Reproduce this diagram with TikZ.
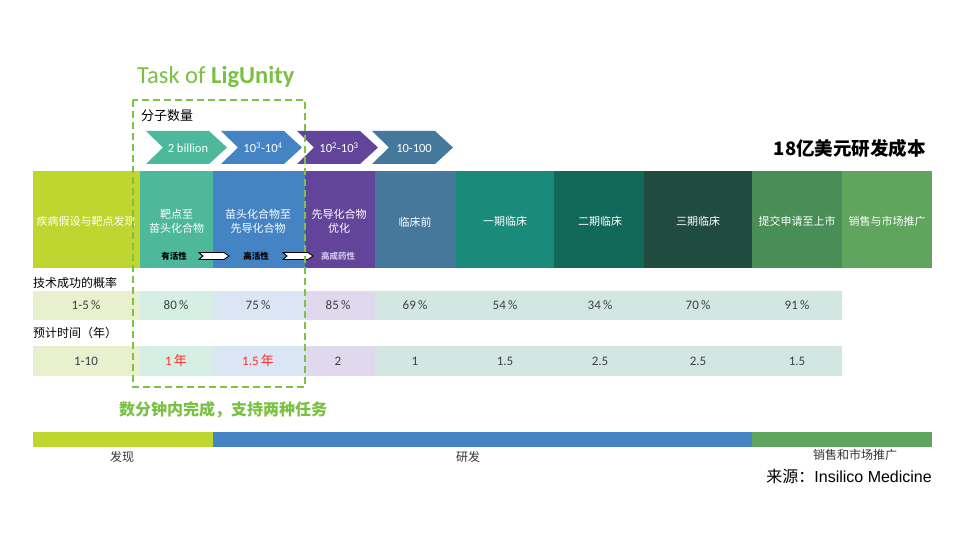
\documentclass[tikz,border=0pt]{standalone}
\usepackage{fontspec}
\setmainfont{Carlito}
\newfontfamily\cjk{Noto Sans CJK SC}
\newfontfamily\arial{Liberation Sans}
\definecolor{clime}{HTML}{BFD630}
\definecolor{cteal}{HTML}{4DB89C}
\definecolor{cblue}{HTML}{4484C4}
\definecolor{cpurple}{HTML}{62459A}
\definecolor{cslate}{HTML}{45789B}
\definecolor{cteal2}{HTML}{1A8B7A}
\definecolor{cdteal}{HTML}{12695A}
\definecolor{cdgreen}{HTML}{1F4C3F}
\definecolor{cgreen1}{HTML}{4A8E57}
\definecolor{cgreen2}{HTML}{5FA55E}
\definecolor{plime}{HTML}{E8F0CD}
\definecolor{pteal}{HTML}{D6EFE5}
\definecolor{pblue}{HTML}{DBE6F4}
\definecolor{ppurple}{HTML}{E0D9EE}
\definecolor{pgray}{HTML}{D3E7E2}
\definecolor{ctitle}{HTML}{7AC143}
\definecolor{cbox}{HTML}{7DC242}
\definecolor{cval}{HTML}{404040}
\definecolor{cred}{HTML}{FF2A2A}
\definecolor{clav}{HTML}{CBC1E4}
\begin{document}
\begin{tikzpicture}[x=1pt,y=-1pt,
  stagetxt/.style={text=white, font=\cjk\fontsize{11}{13.5}\selectfont, align=center, inner sep=0pt},
  chevtxt/.style={text=white, font=\fontsize{12.5}{14}\selectfont, inner sep=0pt},
  smalltxt/.style={font=\cjk\bfseries\fontsize{8.5}{10}\selectfont, inner sep=0pt},
  valtxt/.style={text=cval, font=\fontsize{13}{15}\selectfont, inner sep=0pt},
  redtxt/.style={text=cred, font=\fontsize{13}{15}\selectfont, inner sep=0pt},
  rowlabel/.style={anchor=west, font=\cjk\fontsize{12}{14}\selectfont, inner sep=0pt},
  bottomtxt/.style={text=black!80, font=\cjk\fontsize{12}{14}\selectfont, inner sep=0pt},
  smallarrow/.style={fill=white, draw=black, line width=0.9pt}
]
\useasboundingbox (0,0) rectangle (960,540);
\fill[white] (0,0) rectangle (960,540);

% title
\node[anchor=west, text=ctitle, font=\fontsize{24.5}{28}\selectfont, inner sep=0pt] (title) at (137,77) {Task of \textbf{LigUnity}};
\node[anchor=west, font=\cjk\fontsize{13}{15}\selectfont, inner sep=0pt] (count) at (141,116) {分子数量};
\node[anchor=east, font=\cjk\bfseries\fontsize{18.5}{22}\selectfont, inner sep=0pt] (cost) at (926,148) {18亿美元研发成本};

% chevrons
\fill[cteal]   (146,131) -- (209,131) -- (227,147.5) -- (209,164) -- (146,164) -- (163,147.5) -- cycle;
\fill[cblue]   (221,131) -- (284,131) -- (302,147.5) -- (284,164) -- (221,164) -- (238,147.5) -- cycle;
\fill[cpurple] (297,131) -- (360,131) -- (378,147.5) -- (360,164) -- (297,164) -- (314,147.5) -- cycle;
\fill[cslate]  (372,131) -- (435,131) -- (453,147.5) -- (435,164) -- (372,164) -- (389,147.5) -- cycle;
\node[chevtxt] (c1) at (188,148) {2 billion};
\node[chevtxt] (c2) at (263,148) {10\textsuperscript{3}-10\textsuperscript{4}};
\node[chevtxt] (c3) at (339,148) {10\textsuperscript{2}-10\textsuperscript{3}};
\node[chevtxt] (c4) at (414,148) {10-100};

% stage bar
\fill[clime]   (33,171) rectangle (140,268);
\fill[cteal]   (140,171) rectangle (213,268);
\fill[cblue]   (213,171) rectangle (305,268);
\fill[cpurple] (305,171) rectangle (375,268);
\fill[cslate]  (375,171) rectangle (456,268);
\fill[cteal2]  (456,171) rectangle (554,268);
\fill[cdteal]  (554,171) rectangle (644,268);
\fill[cdgreen] (644,171) rectangle (752,268);
\fill[cgreen1] (752,171) rectangle (842,268);
\fill[cgreen2] (842,171) rectangle (932,268);
\node[stagetxt] (s1) at (86,221) {疾病假设与靶点发现};
\node[stagetxt] (s2) at (176.5,221.5) {靶点至\\苗头化合物};
\node[stagetxt] (s3) at (258,221.5) {苗头化合物至\\先导化合物};
\node[stagetxt] (s4) at (339,221.5) {先导化合物\\优化};
\node[stagetxt] (s5) at (415,222) {临床前};
\node[stagetxt] (s6) at (505,221) {一期临床};
\node[stagetxt] (s7) at (600,221) {二期临床};
\node[stagetxt] (s8) at (698,221) {三期临床};
\node[stagetxt] (s9) at (797,221) {提交申请至上市};
\node[stagetxt] (s10) at (887,221) {销售与市场推广};

% small labels and arrows
\node[smalltxt, text=black] (a1) at (174,256) {有活性};
\node[smalltxt, text=black] (a2) at (256,256) {高活性};
\node[smalltxt, text=clav] (a3) at (338,256) {高成药性};
\draw[smallarrow] (199,252.5) -- (224,252.5) -- (229,256) -- (224,259.5) -- (199,259.5) -- (203,256) -- cycle;
\draw[smallarrow] (283,252.5) -- (308,252.5) -- (313,256) -- (308,259.5) -- (283,259.5) -- (287,256) -- cycle;

% row 1
\node[rowlabel] (r1) at (33,283) {技术成功的概率};
\fill[plime]   (33,291) rectangle (140,320);
\fill[pteal]   (140,291) rectangle (213,320);
\fill[pblue]   (213,291) rectangle (305,320);
\fill[ppurple] (305,291) rectangle (375,320);
\fill[pgray]   (375,291) rectangle (842,320);
\node[valtxt] (p1) at (86,305.5) {1-5\,\%};
\node[valtxt] (p2) at (176,305.5) {80\,\%};
\node[valtxt] (p3) at (258,305.5) {75\,\%};
\node[valtxt] (p4) at (338,305.5) {85\,\%};
\node[valtxt] (p5) at (415,305.5) {69\,\%};
\node[valtxt] (p6) at (505,305.5) {54\,\%};
\node[valtxt] (p7) at (600,305.5) {34\,\%};
\node[valtxt] (p8) at (698,305.5) {70\,\%};
\node[valtxt] (p9) at (797,305.5) {91\,\%};

% row 2
\node[rowlabel] (r2) at (33,333) {预计时间（年）};
\fill[plime]   (33,346) rectangle (140,376);
\fill[pteal]   (140,346) rectangle (213,376);
\fill[pblue]   (213,346) rectangle (305,376);
\fill[ppurple] (305,346) rectangle (375,376);
\fill[pgray]   (375,346) rectangle (842,376);
\node[valtxt] (t1) at (86,361) {1-10};
\node[redtxt] (t2) at (176,361) {1\,{\cjk 年}};
\node[redtxt] (t3) at (258,361) {1.5\,{\cjk 年}};
\node[valtxt] (t4) at (338,361) {2};
\node[valtxt] (t5) at (415,361) {1};
\node[valtxt] (t6) at (505,361) {1.5};
\node[valtxt] (t7) at (600,361) {2.5};
\node[valtxt] (t8) at (698,361) {2.5};
\node[valtxt] (t9) at (797,361) {1.5};

% dashed box
\draw[cbox, line width=2.3pt, dash pattern=on 7pt off 4pt] (133,100) rectangle (305,387);
\node[text=ctitle, font=\cjk\bfseries\fontsize{16}{19}\selectfont, inner sep=0pt] (mins) at (223,410) {数分钟内完成，支持两种任务};

% bottom bar
\fill[clime]   (33,432) rectangle (213,447);
\fill[cblue]   (213,432) rectangle (752,447);
\fill[cgreen2] (752,432) rectangle (932,447);
\node[bottomtxt] (b1) at (122,457) {发现};
\node[bottomtxt] (b2) at (468,457) {研发};
\node[bottomtxt] (b3) at (855,455) {销售和市场推广};
\node[anchor=east, inner sep=0pt, font=\fontsize{16}{19}\selectfont] (src) at (932,476) {{\cjk 来源：}{\arial Insilico Medicine}};
\end{tikzpicture}
\end{document}
